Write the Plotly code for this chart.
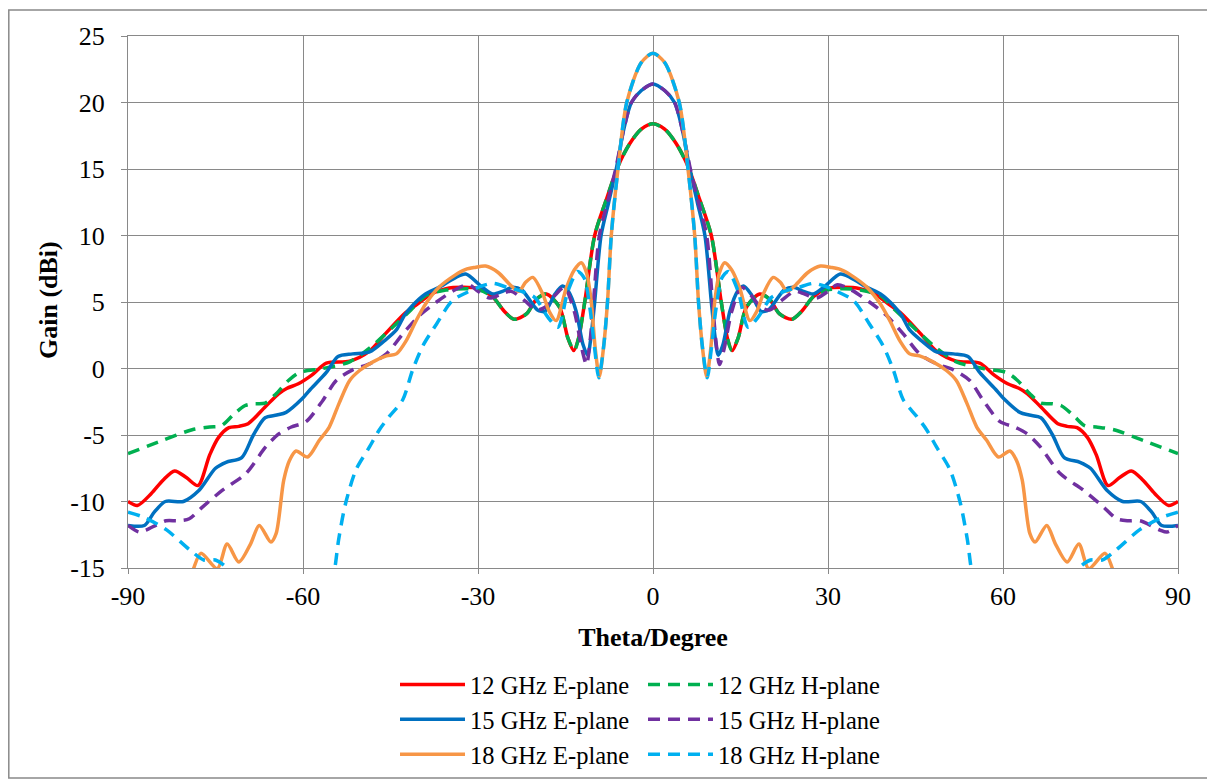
import plotly.graph_objects as go

# ---------------- data ----------------
THETA_12E = [-90, -88.4, -86, -84, -82, -80, -78, -76, -74.5, -72.7, -71, -69.4, -66.5, -64.2, -62.8, -60.8, -58.5, -56, -52, -48.6, -45.9, -42.4, -40.5, -38, -35.5, -32.5, -29.8, -27.5, -25.5, -23.8, -21.7, -20, -18.3, -16, -14.6, -13.6, -12.8, -11.7, -10, -8, -6, -4, -2,
             0, 2, 4, 6, 8, 10, 11.7, 12.8, 13.6, 14.6, 16, 18.3, 20, 21.7, 23.8, 25.5, 27.5, 29.8, 32.5, 35.5, 38, 40.5, 42.4, 45.9, 48.6, 52, 56, 58.5, 60.8, 62.8, 64.2, 66.5, 69.4, 71, 72.7, 74.5, 76, 78, 80, 82, 84, 86, 88.4, 90]
GAIN_12E = [-10.0, -10.3, -9.4, -8.4, -7.7, -8.2, -8.8, -6.5, -5.2, -4.45, -4.35, -4.15, -2.9, -1.9, -1.5, -1.15, -0.5, 0.4, 0.55, 1.3, 2.6, 4.2, 4.8, 5.6, 6.0, 6.1, 6.0, 5.4, 4.3, 3.7, 4.1, 5.2, 5.6, 4.6, 2.3, 1.35, 2.2, 5.0, 10.0, 12.7, 15.2, 16.9, 18.0,
            18.4, 18.0, 16.9, 15.2, 12.7, 10.0, 5.0, 2.2, 1.35, 2.3, 4.6, 5.6, 5.2, 4.1, 3.7, 4.3, 5.4, 6.0, 6.1, 6.0, 5.6, 4.8, 4.2, 2.6, 1.3, 0.55, 0.4, -0.5, -1.15, -1.5, -1.9, -2.9, -4.15, -4.35, -4.45, -5.2, -6.5, -8.8, -8.2, -7.7, -8.4, -9.4, -10.3, -10.0]

THETA_12H = [-90, -84, -79, -76, -74, -72, -70, -68.5, -66.5, -64.6, -62.5, -60.6, -56.6, -52, -48.4, -44.4, -41.5, -38.9, -35.5, -32.5, -29.8, -27.5, -25.5, -23.8, -21.7, -20, -18.3, -16, -14.6, -13.5, -12.8, -11.7, -10, -8, -6, -4, -2,
             0, 2, 4, 6, 8, 10, 11.7, 12.8, 13.5, 14.6, 16, 18.3, 20, 21.7, 23.8, 25.5, 27.5, 29.8, 32.5, 35.5, 38.9, 41.5, 44.4, 48.4, 52, 56.6, 60.6, 62.5, 64.6, 66.5, 68.5, 70, 72, 74, 76, 79, 84, 90]
GAIN_12H = [-6.4, -5.4, -4.6, -4.4, -4.3, -3.5, -2.8, -2.65, -2.6, -1.9, -0.9, -0.3, 0.0, 0.5, 1.6, 3.2, 4.4, 5.5, 5.9, 6.0, 5.9, 5.4, 4.3, 3.7, 4.1, 5.2, 5.6, 4.6, 2.3, 1.35, 2.2, 5.0, 10.0, 12.7, 15.2, 16.9, 18.0,
            18.4, 18.0, 16.9, 15.2, 12.7, 10.0, 5.0, 2.2, 1.35, 2.3, 4.6, 5.6, 5.2, 4.1, 3.7, 4.3, 5.4, 5.9, 6.0, 5.9, 5.5, 4.4, 3.2, 1.6, 0.5, 0.0, -0.3, -0.9, -1.9, -2.6, -2.65, -2.8, -3.5, -4.3, -4.4, -4.6, -5.4, -6.4]

THETA_15E = [-90, -87.2, -85.5, -83.6, -80.5, -77.9, -75, -73.2, -70.5, -68.5, -66.5, -64.5, -62.9, -60.2, -58.9, -56, -54, -51.5, -48.6, -46, -44, -42.6, -41.3, -39, -36.7, -34, -32.1, -29.5, -27.5, -25.8, -24.1, -22.5, -20.9, -19.8, -18.5, -16.8, -15.5, -14.5, -13.2, -12, -11.2, -10.6, -10, -8.9, -7.6, -6.3, -5, -3.7, -2,
             0, 2, 3.7, 5, 6.3, 7.6, 8.9, 10, 10.6, 11.2, 12, 13.2, 14.5, 15.5, 16.8, 18.5, 19.8, 20.9, 22.5, 24.1, 25.8, 27.5, 29.5, 32.1, 34, 36.7, 39, 41.3, 42.6, 44, 46, 48.6, 51.5, 54, 56, 58.9, 60.2, 62.9, 64.5, 66.5, 68.5, 70.5, 73.2, 75, 77.9, 80.5, 83.6, 85.5, 87.2, 90]
GAIN_15E = [-11.8, -11.8, -10.8, -10.0, -10.0, -9.2, -7.5, -7.05, -6.7, -5.0, -3.7, -3.5, -3.3, -2.3, -1.65, -0.3, 0.9, 1.1, 1.25, 2.1, 2.9, 4.0, 4.7, 5.6, 6.1, 6.8, 7.1, 6.2, 5.6, 5.8, 6.1, 5.9, 5.0, 4.4, 4.3, 5.6, 6.2, 5.8, 4.35, 1.8, 1.0, 2.5, 5.0, 10.0, 12.5, 15.0, 18.0, 20.0, 20.9,
            21.4, 20.9, 20.0, 18.0, 15.0, 12.5, 10.0, 5.0, 2.5, 1.0, 1.8, 4.35, 5.8, 6.2, 5.6, 4.3, 4.4, 5.0, 5.9, 6.1, 5.8, 5.6, 6.2, 7.1, 6.8, 6.1, 5.6, 4.7, 4.0, 2.9, 2.1, 1.25, 1.1, 0.9, -0.3, -1.65, -2.3, -3.3, -3.5, -3.7, -5.0, -6.7, -7.05, -7.5, -9.2, -10.0, -10.0, -10.8, -11.8, -11.8]

THETA_15H = [-90, -88.1, -86.9, -83.5, -81.5, -79.5, -77.2, -73.8, -69.8, -66.4, -64.1, -62, -59.5, -56.6, -54.3, -51.5, -48.6, -45.7, -42.9, -40, -37.1, -34, -31.6, -30, -28, -26, -24.3, -22, -20, -18.5, -16.8, -15.2, -13.5, -12.2, -11.4, -10.8, -10.2, -9.2, -7.8, -6.4, -5, -3.7, -2,
             0, 2, 3.7, 5, 6.4, 7.8, 9.2, 10.2, 10.8, 11.4, 12.2, 13.5, 15.2, 16.8, 18.5, 20, 22, 24.3, 26, 28, 30, 31.6, 34, 37.1, 40, 42.9, 45.7, 48.6, 51.5, 54.3, 56.6, 59.5, 62, 64.1, 66.4, 69.8, 73.8, 77.2, 79.5, 81.5, 83.5, 86.9, 88.1, 90]
GAIN_15H = [-11.8, -12.3, -12.15, -11.45, -11.45, -11.3, -10.4, -9.15, -7.9, -5.9, -4.9, -4.4, -4.0, -2.4, -0.9, -0.1, 0.35, 1.1, 2.6, 4.0, 5.0, 5.9, 6.3, 5.8, 5.3, 5.6, 5.8, 5.1, 4.4, 4.6, 5.5, 6.1, 4.3, 1.5, 0.3, 2.0, 5.0, 10.0, 12.5, 15.0, 18.0, 20.0, 20.9,
            21.4, 20.9, 20.0, 18.0, 15.0, 12.5, 10.0, 5.0, 2.0, 0.3, 1.5, 4.3, 6.1, 5.5, 4.6, 4.4, 5.1, 5.8, 5.6, 5.3, 5.8, 6.3, 5.9, 5.0, 4.0, 2.6, 1.1, 0.35, -0.1, -0.9, -2.4, -4.0, -4.4, -4.9, -5.9, -7.9, -9.15, -10.4, -11.3, -11.45, -11.45, -12.15, -12.3, -11.8]

THETA_18E = [-90, -85, -81, -79, -77.5, -74.7, -73, -71, -69, -67.5, -65.5, -64.6, -63.3, -62.3, -61.2, -59.2, -57.2, -55.5, -53.8, -52, -50.3, -48, -45.7, -44, -42.3, -40.6, -38.9, -36.7, -34, -32.1, -30.5, -28.7, -26.5, -24.5, -23, -21.8, -20.6, -18.9, -17.8, -16.6, -14.9, -13.5, -12.3, -11.4, -10.6, -9.9, -9.2, -8.5, -7.8, -7.15, -6, -4.5, -2,
             0, 2, 4.5, 6, 7.15, 7.8, 8.5, 9.2, 9.9, 10.6, 11.4, 12.3, 13.5, 14.9, 16.6, 17.8, 18.9, 20.6, 21.8, 23, 24.5, 26.5, 28.7, 30.5, 32.1, 34, 36.7, 38.9, 40.6, 42.3, 44, 45.7, 48, 50.3, 52, 53.8, 55.5, 57.2, 59.2, 61.2, 62.3, 63.3, 64.6, 65.5, 67.5, 69, 71, 73, 74.7, 77.5, 79, 81, 85, 90]
GAIN_18E = [-20, -19, -17, -15.3, -13.9, -15.05, -13.2, -14.55, -13.2, -11.8, -13.05, -12.4, -8.4, -6.9, -6.2, -6.65, -5.4, -4.4, -2.6, -0.9, -0.15, 0.5, 0.95, 1.1, 2.1, 3.6, 4.9, 6.1, 7.0, 7.45, 7.6, 7.7, 7.2, 6.3, 5.8, 6.5, 6.85, 5.6, 4.3, 3.6, 6.0, 7.4, 7.95, 7.2, 5.1, 1.5, -0.6, 1.5, 5.0, 10.0, 15.0, 20.0, 23.0,
            23.7, 23.0, 20.0, 15.0, 10.0, 5.0, 1.5, -0.6, 1.5, 5.1, 7.2, 7.95, 7.4, 6.0, 3.6, 4.3, 5.6, 6.85, 6.5, 5.8, 6.3, 7.2, 7.7, 7.6, 7.45, 7.0, 6.1, 4.9, 3.6, 2.1, 1.1, 0.95, 0.5, -0.15, -0.9, -2.6, -4.4, -5.4, -6.65, -6.2, -6.9, -8.4, -12.4, -13.05, -11.8, -13.2, -14.55, -13.2, -15.05, -13.9, -15.3, -17, -19, -20]

THETA_18H = [-90, -87.2, -83.5, -79.5, -77, -75, -73, -71, -68, -62, -57, -55.3, -54.5, -53.9, -52.7, -50.9, -48.6, -46.9, -45.2, -42.9, -41.2, -39.4, -37.1, -34.4, -32, -30, -27.5, -25, -22.9, -20.3, -18, -16.3, -14.6, -12.9, -11.8, -10.8, -10, -9.3, -8.5, -7.8, -7.15, -6, -4.5, -2,
             0, 2, 4.5, 6, 7.15, 7.8, 8.5, 9.3, 10, 10.8, 11.8, 12.9, 14.6, 16.3, 18, 20.3, 22.9, 25, 27.5, 30, 32, 34.4, 37.1, 39.4, 41.2, 42.9, 45.2, 46.9, 48.6, 50.9, 52.7, 53.9, 54.5, 55.3, 57, 62, 68, 71, 73, 75, 77, 79.5, 83.5, 87.2, 90]
GAIN_18H = [-10.8, -11.2, -12.1, -13.6, -14.4, -14.4, -15.0, -16.5, -19, -22, -19, -16.8, -14.9, -12.9, -10.15, -7.6, -5.9, -4.6, -3.6, -2.35, -0.1, 1.75, 3.35, 5.1, 5.7, 6.1, 6.4, 6.1, 5.85, 5.35, 3.85, 3.1, 5.8, 7.3, 6.8, 4.5, 1.5, -0.7, 1.5, 5.0, 10.0, 15.0, 20.0, 23.0,
            23.7, 23.0, 20.0, 15.0, 10.0, 5.0, 1.5, -0.7, 1.5, 4.5, 6.8, 7.3, 5.8, 3.1, 3.85, 5.35, 5.85, 6.1, 6.4, 6.1, 5.7, 5.1, 3.35, 1.75, -0.1, -2.35, -3.6, -4.6, -5.9, -7.6, -10.15, -12.9, -14.9, -16.8, -19, -22, -19, -16.5, -15.0, -14.4, -14.4, -13.6, -12.1, -11.2, -10.8]

SERIES_NAMES = ["12 GHz E-plane", "12 GHz H-plane", "15 GHz E-plane",
                "15 GHz H-plane", "18 GHz E-plane", "18 GHz H-plane"]
X_TICKS = [-90, -60, -30, 0, 30, 60, 90]
Y_TICKS = [-15, -10, -5, 0, 5, 10, 15, 20, 25]
X_TITLE = "Theta/Degree"
Y_TITLE = "Gain (dBi)"

# ---------------- styling ----------------
FONT = "Liberation Serif, Times New Roman, serif"
GRID = "#898989"
DASH = "12px,8px"
PAD = "\u00a0\u2006"
series = [
    (THETA_12E, GAIN_12E, SERIES_NAMES[0], "#FF0000", "solid", "legend"),
    (THETA_12H, GAIN_12H, SERIES_NAMES[1], "#00B050", DASH, "legend2"),
    (THETA_15E, GAIN_15E, SERIES_NAMES[2], "#0070C0", "solid", "legend"),
    (THETA_15H, GAIN_15H, SERIES_NAMES[3], "#7030A0", DASH, "legend2"),
    (THETA_18E, GAIN_18E, SERIES_NAMES[4], "#F79646", "solid", "legend"),
    (THETA_18H, GAIN_18H, SERIES_NAMES[5], "#00B0F0", DASH, "legend2"),
]

for t, g, n, *_ in series:
    assert len(t) == len(g), (n, len(t), len(g))

fig = go.Figure()
for t, g, n, c, d, lg in series:
    fig.add_trace(go.Scatter(
        x=t, y=g, name=n, mode="lines", legend=lg,
        line=dict(color=c, width=3.5, dash=d, shape="spline", smoothing=0.8),
    ))

# page body adds an 8px offset, so the figure is sized to fit the window
W, H = 1207, 773
L, R, T, B = 120, 37, 28, 213
pw, ph = W - L - R, H - T - B


def px(xp):
    return (xp - L) / pw


def py(yp):
    return (H - B - yp) / ph


LEG_FONT = dict(family=FONT, size=24.5, color="black")
TICK_FONT = dict(family=FONT, size=26, color="black")
TITLE_FONT = dict(family=FONT, size=26, color="black")

fig.update_layout(
    width=W, height=H,
    margin=dict(l=L, r=R, t=T, b=B, autoexpand=False),
    paper_bgcolor="white", plot_bgcolor="white",
    font=dict(family=FONT, size=24, color="black"),
    showlegend=True,
    legend=dict(xref="container", yref="container",
                x=387 / W, y=1 - 654 / H, xanchor="left", yanchor="top",
                orientation="v", itemwidth=65, bgcolor="rgba(0,0,0,0)",
                font=LEG_FONT, tracegroupgap=0),
    legend2=dict(xref="container", yref="container",
                 x=635 / W, y=1 - 654 / H, xanchor="left", yanchor="top",
                 orientation="v", itemwidth=65, bgcolor="rgba(0,0,0,0)",
                 font=LEG_FONT, tracegroupgap=0),
    shapes=[dict(type="rect", xref="paper", yref="paper",
                 x0=px(0.8), x1=px(1203), y0=py(770), y1=py(2),
                 line=dict(color=GRID, width=1.5), fillcolor="rgba(0,0,0,0)",
                 layer="below")],
    annotations=[dict(text="<b>" + Y_TITLE + "</b>", textangle=-90,
                      xref="paper", yref="paper", x=px(40), y=py(292),
                      xanchor="center", yanchor="middle", showarrow=False,
                      font=TITLE_FONT)],
)

fig.update_xaxes(
    range=[-90, 90], tickvals=X_TICKS, ticktext=[str(v) for v in X_TICKS],
    showgrid=True, gridcolor=GRID, gridwidth=1.3,
    showline=True, linecolor=GRID, linewidth=1.3, mirror=True,
    ticks="outside", ticklen=5, tickcolor=GRID, tickwidth=1.3,
    zeroline=False, tickfont=TICK_FONT,
    title=dict(text="<b>" + X_TITLE + "</b>", font=TITLE_FONT, standoff=17),
)
fig.update_yaxes(
    range=[-15, 25], tickvals=Y_TICKS, ticktext=[str(v) + PAD for v in Y_TICKS],
    showgrid=True, gridcolor=GRID, gridwidth=1.3,
    showline=True, linecolor=GRID, linewidth=1.3, mirror=True,
    ticks="outside", ticklen=6, tickcolor=GRID, tickwidth=1.3,
    zeroline=False, tickfont=TICK_FONT,
)

fig.write_html("out.html")
